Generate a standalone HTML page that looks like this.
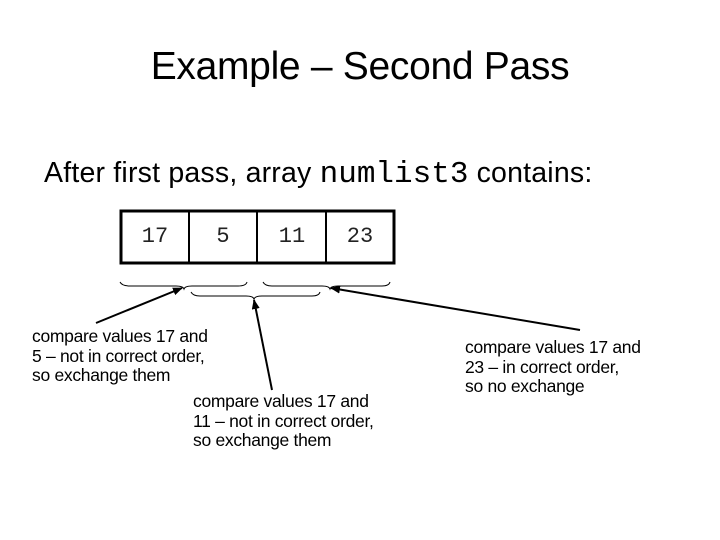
<!DOCTYPE html>
<html><head><style>
body{margin:0;width:720px;height:540px;background:#fff;position:relative;overflow:hidden;font-family:"Liberation Sans",sans-serif;color:#000}
.t{position:absolute;white-space:nowrap}
.note{position:absolute;font-size:17.5px;line-height:19.5px;letter-spacing:-0.3px;white-space:nowrap}
</style></head><body>
<div class="t" style="left:0;width:720px;top:45px;text-align:center;font-size:39px;letter-spacing:-0.3px">Example – Second Pass</div>
<div class="t" style="left:44px;top:157px;font-size:28.5px;letter-spacing:0.2px">After first pass, array <span style="font-family:'Liberation Mono',monospace;font-size:31px;letter-spacing:0">numlist3</span> contains:</div>
<svg width="720" height="540" style="position:absolute;left:0;top:0">
<defs><marker id="a" markerWidth="10" markerHeight="8" refX="9" refY="4" orient="auto" markerUnits="userSpaceOnUse"><path d="M0,0 L10,4 L0,8 z" fill="#000"/></marker></defs>
<rect x="121" y="211" width="273" height="52" fill="none" stroke="#000" stroke-width="3"/>
<line x1="189" y1="211" x2="189" y2="263" stroke="#000" stroke-width="2"/>
<line x1="257" y1="211" x2="257" y2="263" stroke="#000" stroke-width="2"/>
<line x1="326" y1="211" x2="326" y2="263" stroke="#000" stroke-width="2"/>
<g font-family="Liberation Mono,monospace" font-size="22" text-anchor="middle" fill="#222">
<text x="155" y="242">17</text><text x="223" y="242">5</text><text x="292" y="242">11</text><text x="360" y="242">23</text></g>
<g fill="none" stroke="#000" stroke-width="1">
<path d="M120,282 Q122,286 130,286 L176,286 Q183,286 184,289 Q185,286 192,286 L238,286 Q246,286 247,282"/>
<path d="M191,292 Q193,296 200,296 L246,296 Q253,296 254,299 Q255,296 262,296 L312,296 Q319,296 320,292"/>
<path d="M263,282 Q265,286 272,286 L322,286 Q329,286 330,289 Q331,286 338,286 L382,286 Q389,286 390,282"/>
</g>
<g stroke="#000" stroke-width="2" marker-end="url(#a)">
<line x1="96" y1="323" x2="182" y2="288"/>
<line x1="272" y1="390" x2="254" y2="300"/>
<line x1="580" y1="330" x2="331" y2="288"/>
</g>
</svg>
<div class="note" style="left:32px;top:327px">compare values 17 and<br>5 – not in correct order,<br>so exchange them</div>
<div class="note" style="left:193px;top:392px">compare values 17 and<br>11 – not in correct order,<br>so exchange them</div>
<div class="note" style="left:465px;top:338px">compare values 17 and<br>23 – in correct order,<br>so no exchange</div>
</body></html>
